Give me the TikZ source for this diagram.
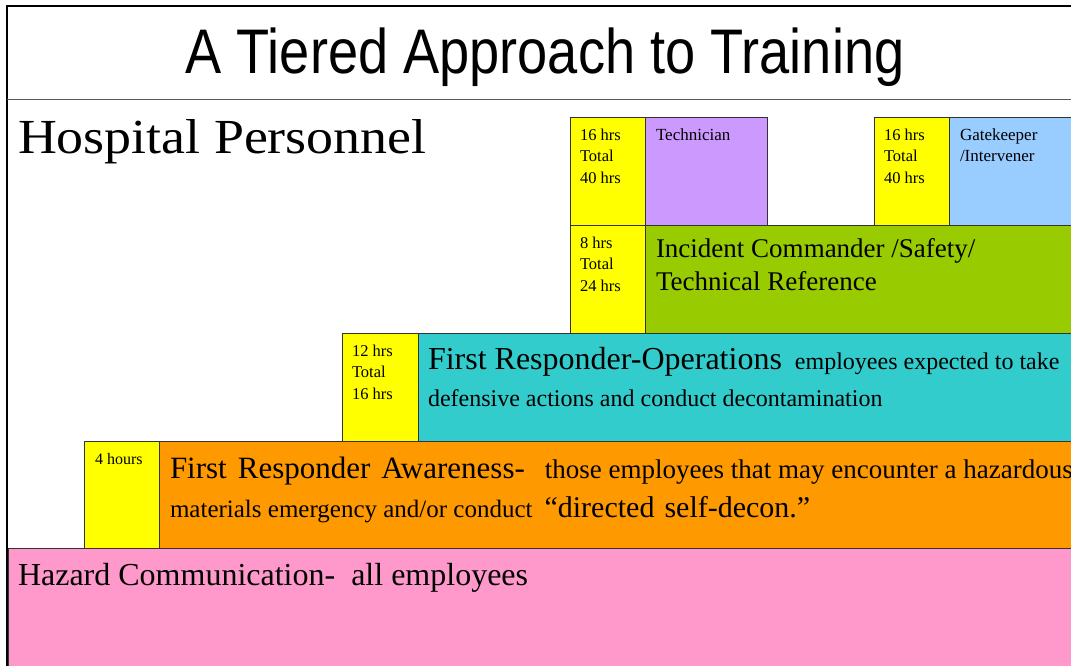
\documentclass[tikz,border=0pt]{standalone}
\usepackage{fontspec}
\setmainfont{Liberation Serif}
\newfontfamily\titlefont[FakeStretch=0.86]{Liberation Sans}
\newfontfamily\hpfont[FakeStretch=1.1]{Liberation Serif}
\definecolor{yel}{HTML}{FFFF00}
\definecolor{purp}{HTML}{CC99FF}
\definecolor{lblue}{HTML}{99CCFF}
\definecolor{lgreen}{HTML}{99CC00}
\definecolor{tealc}{HTML}{33CCCC}
\definecolor{orng}{HTML}{FF9900}
\definecolor{pnk}{HTML}{FF99CC}
\definecolor{edge}{HTML}{333333}
\newcommand{\fsz}[2]{\fontsize{#1}{#2}\selectfont}
\tikzset{
  blk/.style={draw=edge, line width=0.9pt, inner sep=0pt, outer sep=0pt, anchor=north west},
  txt/.style={anchor=base west, inner sep=0pt, outer sep=0pt, text=black},
}
\begin{document}
\begin{tikzpicture}[x=1pt,y=-1pt]
\useasboundingbox (0,0) rectangle (1071,665);
\clip (0,0) rectangle (1071,665);
\fill[white] (0,0) rectangle (1071,665);

% tier boxes
\node[blk, fill=pnk,    minimum width=1075pt, minimum height=125pt] (hazbox) at (8,548) {};
\node[blk, fill=yel,    minimum width=75pt,   minimum height=107pt] (y4)     at (84,441) {};
\node[blk, fill=orng,   minimum width=925pt,  minimum height=107pt] (awbox)  at (159,441) {};
\node[blk, fill=yel,    minimum width=76pt,   minimum height=108pt] (y12)    at (342,333) {};
\node[blk, fill=tealc,  minimum width=665pt,  minimum height=108pt] (opsbox) at (418,333) {};
\node[blk, fill=yel,    minimum width=75pt,   minimum height=108pt] (y8)     at (570,225) {};
\node[blk, fill=lgreen, minimum width=440pt,  minimum height=108pt] (icbox)  at (645,225) {};
\node[blk, fill=yel,    minimum width=75pt,   minimum height=108pt] (y16a)   at (570,117) {};
\node[blk, fill=purp,   minimum width=122pt,  minimum height=108pt] (techbox) at (645,117) {};
\node[blk, fill=yel,    minimum width=75pt,   minimum height=108pt] (y16b)   at (874,117) {};
\node[blk, fill=lblue,  minimum width=135pt,  minimum height=108pt] (gatebox) at (949,117) {};

% frame
\draw[line width=2pt] (7,670) -- (7,6) -- (1080,6);
\draw[draw=gray!70!black, line width=1.3pt] (7,99.5) -- (1080,99.5);

% title
\node[txt, anchor=base] (title) at (545,73) {\titlefont\fsz{63}{70}A Tiered Approach to Training};
\node[txt] (hosp) at (18,153) {\hpfont\fsz{49}{56}Hospital Personnel};

% yellow hour boxes
\node[txt] (t16a) at (580,140) {\parbox[t]{60pt}{\fsz{16.5}{21.5}16 hrs\\Total\\40 hrs}};
\node[txt] (t16b) at (884,140) {\parbox[t]{60pt}{\fsz{16.5}{21.5}16 hrs\\Total\\40 hrs}};
\node[txt] (t8)   at (580,248) {\parbox[t]{60pt}{\fsz{16.5}{21.5}8 hrs\\Total\\24 hrs}};
\node[txt] (t12)  at (352,356) {\parbox[t]{60pt}{\fsz{16.5}{21.5}12 hrs\\Total\\16 hrs}};
\node[txt] (t4)   at (95,464)  {\fsz{16}{19}4 hours};

% role texts
\node[txt] (tech) at (656,140) {\fsz{17}{21.5}Technician};
\node[txt] (gate) at (960,140) {\parbox[t]{120pt}{\fsz{17}{21.5}Gatekeeper\\/Intervener}};
\node[txt] (ic)   at (656,257) {\parbox[t]{420pt}{\fsz{27}{33}Incident Commander /Safety/\\Technical Reference}};
\node[txt] (opsA) at (428,369) {\fsz{32}{36}First Responder-Operations\hspace{13pt}\fsz{24}{28}employees expected to take};
\node[txt] (opsB) at (428,406) {\fsz{24}{28}defensive actions and conduct decontamination};
\node[txt] (awA)  at (170,478) {\fsz{31}{36}\spaceskip=11pt First Responder Awareness-\hspace{20pt}\fsz{27}{30}\spaceskip=0pt those employees that may encounter a hazardous};
\node[txt] (awB)  at (170,517) {\fsz{25}{30}materials emergency and/or conduct\hspace{12pt}\fsz{30}{34}\spaceskip=10pt “directed self-decon.”};
\node[txt] (haz)  at (18,585)  {\fsz{32}{36}Hazard Communication-\ \ all employees};
\end{tikzpicture}
\end{document}
